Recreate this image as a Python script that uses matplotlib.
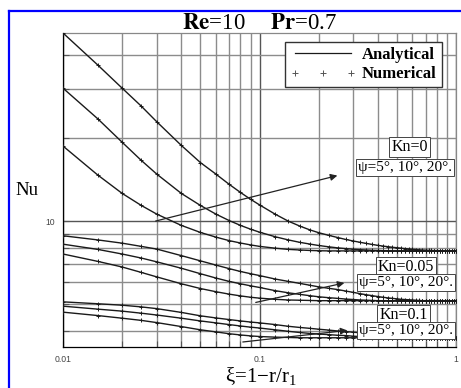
import matplotlib
matplotlib.use("Agg")
import matplotlib.pyplot as plt
from matplotlib.lines import Line2D
from matplotlib.ticker import FixedLocator, NullFormatter


plt.rcParams.update({
    "font.family": ["Liberation Serif", "DejaVu Serif"],
    "mathtext.fontset": "stix",
    "axes.linewidth": 0.9,
    "figure.dpi": 100,
    "savefig.dpi": 100,
})


# dimensionless axial position xi = 1 - r/r1 (shared by all curves)
XI = [0.01, 0.015, 0.02, 0.025, 0.03, 0.04, 0.05, 0.06, 0.07, 0.08,
      0.09, 0.10, 0.12, 0.14, 0.16, 0.18, 0.20, 0.225, 0.25, 0.275,
      0.30, 0.325, 0.35, 0.375, 0.40, 0.425, 0.45, 0.475, 0.50, 0.525,
      0.55, 0.575, 0.60, 0.625, 0.65, 0.675, 0.70, 0.725, 0.75, 0.775,
      0.80, 0.825, 0.85, 0.875, 0.90, 0.925, 0.95, 0.975, 1.00]

# Kn = 0
NU_KN0_PSI20 = [48.0, 36.8, 30.3, 26.1, 22.9, 18.8, 16.3, 14.8, 13.6, 12.7,
                12.0, 11.45, 10.6, 10.0, 9.6, 9.3, 9.08, 8.88, 8.72, 8.58,
                8.47, 8.38, 8.30, 8.23, 8.17, 8.12, 8.08, 8.04, 8.01, 7.98,
                7.95, 7.93, 7.91, 7.89, 7.87, 7.86, 7.85, 7.84, 7.83, 7.82,
                7.82, 7.81, 7.81] + [7.80] * 6
NU_KN0_PSI10 = [30.3, 23.5, 19.3, 16.6, 14.8, 12.6, 11.4, 10.6, 10.05, 9.65,
                9.35, 9.12, 8.78, 8.55, 8.38, 8.26, 8.16, 8.07, 8.00, 7.95,
                7.91, 7.88, 7.86, 7.84, 7.83, 7.82, 7.81] + [7.80] * 22
NU_KN0_PSI5 = [18.7, 14.7, 12.6, 11.4, 10.6, 9.65, 9.1, 8.75, 8.5, 8.33,
               8.2, 8.1, 7.98, 7.9, 7.86, 7.83, 7.81] + [7.80] * 32

# Kn = 0.05
NU_KN005_PSI20 = [8.85, 8.55, 8.32, 8.10, 7.92, 7.50, 7.18, 6.93, 6.73, 6.57,
                  6.45, 6.35, 6.17, 6.05, 5.95, 5.86, 5.78, 5.71, 5.65, 5.58,
                  5.52, 5.46, 5.41, 5.37, 5.33, 5.30, 5.27, 5.25, 5.23, 5.21,
                  5.20, 5.19, 5.18, 5.17, 5.16] + [5.15] * 14
NU_KN005_PSI10 = [8.25, 7.9, 7.6, 7.35, 7.12, 6.75, 6.45, 6.22, 6.05, 5.93,
                  5.83, 5.75, 5.60, 5.50, 5.43, 5.37, 5.32, 5.28, 5.25, 5.22,
                  5.20, 5.18, 5.17, 5.16] + [5.15] * 25
NU_KN005_PSI5 = [7.6, 7.15, 6.82, 6.52, 6.28, 5.93, 5.70, 5.55, 5.44, 5.36,
                 5.30, 5.26, 5.21, 5.18, 5.17, 5.16] + [5.15] * 33

# Kn = 0.1
NU_KN01_PSI20 = [5.10, 5.02, 4.96, 4.89, 4.82, 4.67, 4.54, 4.46, 4.40, 4.35,
                 4.31, 4.28, 4.22, 4.16, 4.12, 4.09, 4.06, 4.03, 4.00, 3.98,
                 3.96, 3.94, 3.92, 3.90, 3.88, 3.86, 3.84, 3.83, 3.82, 3.81,
                 3.80, 3.79, 3.78] + [3.78] * 16
NU_KN01_PSI10 = [4.92, 4.80, 4.72, 4.64, 4.57, 4.45, 4.35, 4.28, 4.22, 4.17,
                 4.13, 4.10, 4.04, 3.99, 3.95, 3.92, 3.90, 3.88, 3.86, 3.85,
                 3.83, 3.82, 3.81, 3.80, 3.79] + [3.78] * 24
NU_KN01_PSI5 = [4.68, 4.55, 4.45, 4.37, 4.29, 4.15, 4.04, 3.97, 3.91, 3.87,
                3.84, 3.82, 3.80, 3.79] + [3.78] * 35

CURVES = [NU_KN0_PSI20, NU_KN0_PSI10, NU_KN0_PSI5,
          NU_KN005_PSI20, NU_KN005_PSI10, NU_KN005_PSI5,
          NU_KN01_PSI20, NU_KN01_PSI10, NU_KN01_PSI5]

PSI_TEXT = "\u03c8=5\u00b0, 10\u00b0, 20\u00b0."

# group labels: (Kn label, label pos, psi label pos, arrow tail, arrow head)
GROUPS = [
    ("Kn=0", (0.58, 18.5), (0.55, 15.6), (0.0287, 9.95), (0.257, 14.7)),
    ("Kn=0.05", (0.556, 6.84), (0.556, 5.99), (0.0927, 5.05), (0.279, 6.0)),
    ("Kn=0.1", (0.541, 4.58), (0.556, 4.01), (0.0796, 3.64), (0.289, 4.03)),
]


def main():

    fig = plt.figure(figsize=(4.61, 3.88))
    ax = fig.add_axes([63 / 461, 41 / 388, 393 / 461, 314 / 388])

    for nu in CURVES:
        ax.plot(XI, nu, color="#1a1a1a", lw=1.0, zorder=3)
        ax.plot(XI, nu, ls="none", marker="+", ms=3.2, mew=0.7,
                color="#1a1a1a", zorder=3)

    ax.set_xscale("log")
    ax.set_yscale("log")
    ax.set_xlim(0.01, 1)
    ax.set_ylim(3.5, 48)

    ax.xaxis.set_major_locator(FixedLocator([0.01, 0.1, 1]))
    ax.set_xticklabels(["0.01", "0.1", "1"])
    ax.xaxis.set_minor_locator(FixedLocator(
        [k * 0.01 for k in range(2, 10)] + [k * 0.1 for k in range(2, 10)]))
    ax.xaxis.set_minor_formatter(NullFormatter())

    ax.yaxis.set_major_locator(FixedLocator([10]))
    ax.set_yticklabels(["10"])
    ax.yaxis.set_minor_locator(FixedLocator([4, 5, 6, 7, 8, 9, 20, 30, 40]))
    ax.yaxis.set_minor_formatter(NullFormatter())

    for lab in ax.get_xticklabels() + ax.get_yticklabels():
        lab.set_fontfamily("Liberation Sans")
        lab.set_fontsize(6.2)
        lab.set_color("#444444")
    ax.tick_params(which="both", direction="in", length=4, width=0.8,
                   color="#555555", pad=6)

    ax.grid(True, which="major", color="#555555", lw=1.0)
    ax.grid(True, which="minor", color="#8c8c8c", lw=1.0)
    ax.set_axisbelow(True)
    for side in ("top", "right"):
        ax.spines[side].set_color("#888888")

    # legend
    handles = [
        Line2D([], [], color="#1a1a1a", lw=0.9),
        Line2D([], [], ls="none", marker="+", ms=5, mew=0.7,
               color="#555555"),
    ]
    ax.legend(handles, ["Analytical", "Numerical"], loc="upper right",
              bbox_to_anchor=(0.964, 0.971), borderaxespad=0,
              numpoints=3, handlelength=4.0, handletextpad=0.35,
              borderpad=0.3, labelspacing=0.2,
              fancybox=False, edgecolor="#333333", framealpha=1,
              prop={"family": "Liberation Serif", "weight": "bold",
                    "size": 12})

    box = dict(boxstyle="square,pad=0.12", fc="white", ec="#444444", lw=0.7)
    for kn, kpos, ppos, tail, head in GROUPS:
        ax.annotate("", xy=head, xytext=tail,
                    arrowprops=dict(arrowstyle="-|>", color="#222222",
                                    lw=0.9, mutation_scale=10), zorder=4)
        ax.text(*kpos, kn, fontsize=11.5, ha="center", va="center",
                bbox=box, zorder=5)
        ax.text(*ppos, PSI_TEXT, fontsize=11, ha="center", va="center",
                bbox=box, zorder=5)

    fig.text(0.563, 0.94,
             r"$\mathbf{Re}$=10$\quad\;\;$$\mathbf{Pr}$=0.7",
             fontsize=16.5, ha="center", va="center")
    fig.text(0.058, 0.51, "Nu", fontsize=13.5, ha="center", va="center")
    fig.text(0.565, 0.03, "\u03be=1\u2212r/$\\mathregular{r_1}$",
             fontsize=15, ha="center", va="center")

    # blue frame of the original screenshot
    fig.add_artist(Line2D([0.0206, 0.0206], [0, 0.9704], color="#0000ff",
                          lw=1.6, transform=fig.transFigure))
    fig.add_artist(Line2D([0.0206, 1], [0.9704, 0.9704], color="#0000ff",
                          lw=1.6, transform=fig.transFigure))

    fig.savefig("out.png", dpi=100)
    plt.close(fig)


if __name__ == "__main__":
    main()
